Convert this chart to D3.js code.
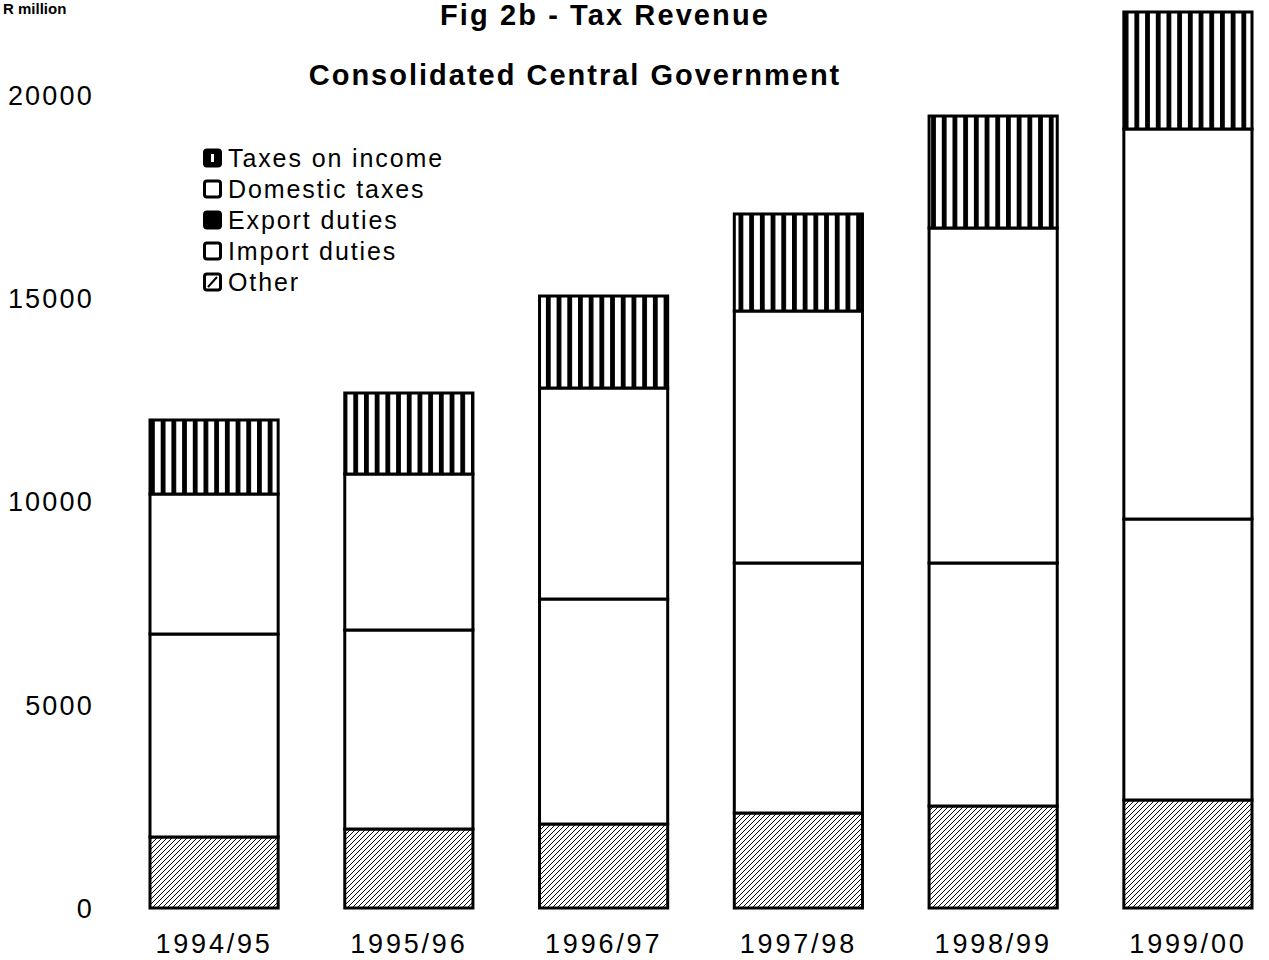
<!DOCTYPE html>
<html><head><meta charset="utf-8">
<script src="https://cdn.jsdelivr.net/npm/d3@7"></script>
<style>
html,body{margin:0;padding:0;background:#fff;}
svg{display:block;}
text{font-family:"Liberation Sans",Arial,Helvetica,sans-serif;fill:#000;}
</style></head>
<body>
<script>
const categories = ["1994/95","1995/96","1996/97","1997/98","1998/99","1999/00"];
const other        = [1747, 1943, 2066, 2337, 2509, 2657];
const importDuties = [4993, 4896, 5535, 6150, 5978, 6912];
const exportDuties = [0, 0, 0, 0, 0, 0];
const domesticTaxes= [3444, 3837, 5191, 6199, 8241, 9595];
const taxesOnIncome= [1821, 1993, 2263, 2387, 2755, 2878];
const yTicks = [0, 5000, 10000, 15000, 20000];
const seriesNames = ["Other","Import duties","Export duties","Domestic taxes","Taxes on income"];
const legendOrder = ["Taxes on income","Domestic taxes","Export duties","Import duties","Other"];

const W = 1269, H = 960;
const svg = d3.select("body").append("svg").attr("width", W).attr("height", H);

const defs = svg.append("defs");
const hatch = defs.append("pattern").attr("id","hatch").attr("patternUnits","userSpaceOnUse")
  .attr("width",5).attr("height",5);
hatch.append("rect").attr("width",5).attr("height",5).attr("fill","#fff");
hatch.append("path").attr("d","M-1,1 l2,-2 M0,5 l5,-5 M4,6 l2,-2").attr("stroke","#000").attr("stroke-width",1);
const stripes = defs.append("pattern").attr("id","stripes").attr("patternUnits","userSpaceOnUse")
  .attr("width",10.7).attr("height",10).attr("x",150);
stripes.append("rect").attr("width",10.7).attr("height",10).attr("fill","#fff");
stripes.append("rect").attr("x",0).attr("width",4.8).attr("height",10).attr("fill","#000");

const x = d3.scaleBand().domain(categories).range([150,1252]).paddingInner(0.342).paddingOuter(0);
const y = d3.scaleLinear().domain([0,20000]).range([908,95]);

const fills = {"Other":"url(#hatch)","Import duties":"#fff","Export duties":"#000","Domestic taxes":"#fff","Taxes on income":"url(#stripes)"};
const table = categories.map((c,i)=>({cat:c,"Other":other[i],"Import duties":importDuties[i],"Export duties":exportDuties[i],"Domestic taxes":domesticTaxes[i],"Taxes on income":taxesOnIncome[i]}));
const stack = d3.stack().keys(seriesNames)(table);

const g = svg.append("g");
stack.forEach(layer=>{
  g.selectAll(null).data(layer).join("rect")
    .attr("x", d=>x(d.data.cat))
    .attr("y", d=>y(d[1]))
    .attr("width", x.bandwidth())
    .attr("height", d=>Math.max(0, y(d[0])-y(d[1])))
    .attr("fill", fills[layer.key])
    .attr("stroke", "#000").attr("stroke-width", 3);
});

// y axis labels
const yAxis = d3.axisLeft(y).tickValues(yTicks).tickSize(0).tickPadding(0).tickFormat(d3.format("d"));
const ya = svg.append("g").attr("transform","translate(94,0)").call(yAxis);
ya.select(".domain").remove();
ya.selectAll("text").attr("font-size",27).attr("letter-spacing","2.2px").attr("dy","0.35em")
  .style("font-family",'"Liberation Sans",Arial,sans-serif').attr("fill","#000");

// x axis labels
const xAxis = d3.axisBottom(x).tickSize(0).tickPadding(0);
const xa = svg.append("g").attr("transform","translate(0,934)").call(xAxis);
xa.select(".domain").remove();
xa.selectAll("text").attr("font-size",27).attr("letter-spacing","2.8px").attr("dy","0.71em")
  .style("font-family",'"Liberation Sans",Arial,sans-serif').attr("fill","#000");

// titles
svg.append("text").attr("x",605).attr("y",25).attr("text-anchor","middle")
  .attr("font-size",29).attr("font-weight","bold").attr("letter-spacing","2.1px").text("Fig 2b - Tax Revenue");
svg.append("text").attr("x",575).attr("y",85).attr("text-anchor","middle")
  .attr("font-size",29).attr("font-weight","bold").attr("letter-spacing","2px").text("Consolidated Central Government");
svg.append("text").attr("x",3).attr("y",14).attr("font-size",15).attr("font-weight","bold").text("R million");

// legend
const lg = svg.append("g").attr("transform","translate(203,0)");
const ly = d3.scalePoint().domain(legendOrder).range([158,282]);
legendOrder.forEach(name=>{
  const cy = ly(name);
  const item = lg.append("g");
  const bf = name==="Export duties"||name==="Taxes on income" ? "#000" : "#fff";
  item.append("rect").attr("x",1.5).attr("y",cy-8).attr("width",16).attr("height",16).attr("rx",2.5)
    .attr("fill",bf).attr("stroke","#000").attr("stroke-width",3);
  if(name==="Taxes on income"){
    item.append("rect").attr("x",8).attr("y",cy-4).attr("width",3).attr("height",8).attr("fill","#fff");
  }
  if(name==="Other"){
    item.append("line").attr("x1",5).attr("y1",cy+5).attr("x2",14).attr("y2",cy-5).attr("stroke","#000").attr("stroke-width",2);
  }
  item.append("text").attr("x",25).attr("y",cy).attr("dy","0.36em").attr("font-size",25)
    .attr("letter-spacing","1.9px").text(name);
});
</script>
</body></html>
